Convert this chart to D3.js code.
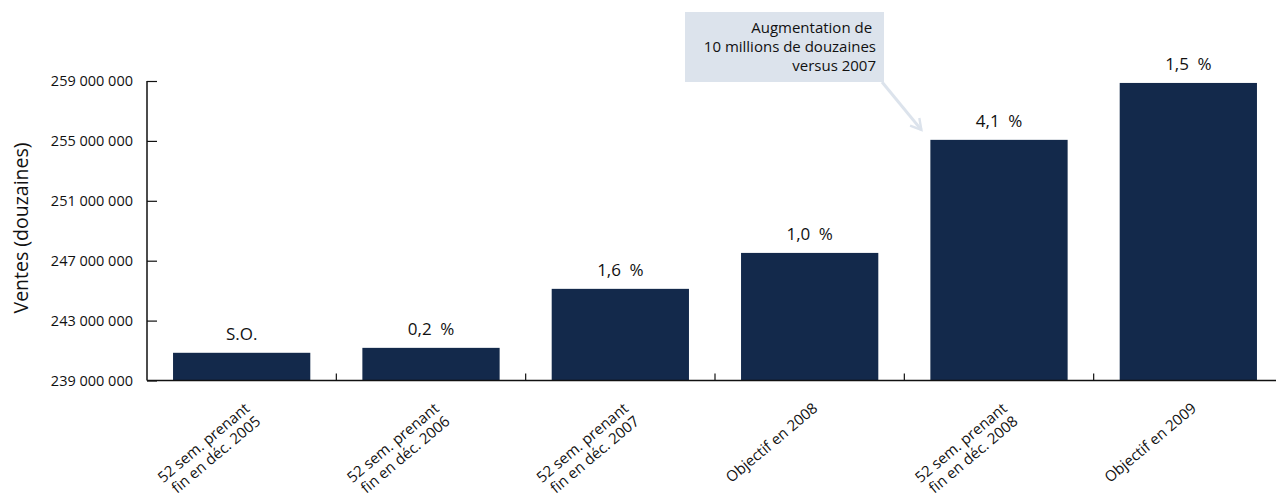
<!DOCTYPE html>
<html>
<head>
<meta charset="utf-8">
<script src="https://cdn.jsdelivr.net/npm/d3@7"></script>
<style>
  body { margin: 0; background: #fff; }
  svg text { font-family: "Open Sans", "Noto Sans", sans-serif; fill: #111; }
</style>
</head>
<body>
<div id="contents"></div>
<script>
var categories = [
    ['52 sem. prenant', 'fin en déc. 2005'],
    ['52 sem. prenant', 'fin en déc. 2006'],
    ['52 sem. prenant', 'fin en déc. 2007'],
    ['Objectif en 2008'],
    ['52 sem. prenant', 'fin en déc. 2008'],
    ['Objectif en 2009']
];
var ventes = [240850000, 241180000, 245120000, 247520000, 255070000, 258870000];
var labels = ['S.O.', '0,2\u2002%', '1,6\u2002%', '1,0\u2002%', '4,1\u2002%', '1,5\u2002%'];
var yTicks = [239000000, 243000000, 247000000, 251000000, 255000000, 259000000];
var noteLines = ['Augmentation de\u00a0', '10 millions de douzaines', 'versus 2007'];
var noteBar = 4;

window.onload = function(){
    'use strict';
    var W = 1276, H = 493;
    var BAR_COLOR = '#13294b';
    var NOTE_COLOR = '#dce3ec';

    var svg = d3.select('#contents').append('svg')
        .attr('width', W).attr('height', H);

    var x = d3.scaleBand()
        .domain(d3.range(categories.length))
        .range([147, 1283])
        .paddingInner(0.275)
        .paddingOuter(0.1375);

    var y = d3.scaleLinear()
        .domain([239000000, 259000000])
        .range([380.5, 81]);

    function fmt(v) {
        return d3.format(',')(v).replace(/,/g, ' ');
    }

    // bars
    svg.append('g')
        .selectAll('rect')
        .data(ventes)
        .enter()
        .append('rect')
        .attr('x', function(d, i){ return x(i); })
        .attr('width', x.bandwidth())
        .attr('y', function(d){ return y(d); })
        .attr('height', function(d){ return y.range()[0] - y(d); })
        .attr('fill', BAR_COLOR);

    // value labels
    svg.append('g')
        .selectAll('text')
        .data(ventes)
        .enter()
        .append('text')
        .attr('x', function(d, i){ return x(i) + x.bandwidth() / 2; })
        .attr('y', function(d){ return y(d) - 13; })
        .attr('text-anchor', 'middle')
        .attr('font-size', 17)
        .text(function(d, i){ return labels[i]; });

    // y axis
    var yAxis = svg.append('g')
        .attr('transform', 'translate(147,0)')
        .call(d3.axisRight(y).tickValues(yTicks).tickSize(10).tickFormat(''));
    yAxis.select('.domain').attr('stroke', '#111').attr('stroke-width', 1.5)
        .attr('d', 'M0,' + y.range()[1] + 'V' + y.range()[0]);
    yAxis.selectAll('.tick line').attr('stroke', '#111').attr('stroke-width', 1.2);

    svg.append('g')
        .selectAll('text')
        .data(yTicks)
        .enter()
        .append('text')
        .attr('x', 133)
        .attr('y', function(d){ return y(d) + 5; })
        .attr('text-anchor', 'end')
        .attr('font-size', 14.5)
        .text(fmt);

    svg.append('text')
        .attr('transform', 'translate(28,228) rotate(-90)')
        .attr('text-anchor', 'middle')
        .attr('font-size', 19.5)
        .text('Ventes (douzaines)');

    // x axis
    var y0 = y.range()[0];
    svg.append('line')
        .attr('x1', 147).attr('x2', W)
        .attr('y1', y0).attr('y2', y0)
        .attr('stroke', '#111').attr('stroke-width', 1.5);
    svg.append('g')
        .selectAll('line')
        .data(d3.range(1, categories.length))
        .enter()
        .append('line')
        .attr('x1', function(i){ return x(i) - x.step() * x.paddingInner() / 2; })
        .attr('x2', function(i){ return x(i) - x.step() * x.paddingInner() / 2; })
        .attr('y1', y0).attr('y2', y0 - 7)
        .attr('stroke', '#111').attr('stroke-width', 1.2);

    var xl = svg.append('g')
        .selectAll('text')
        .data(categories)
        .enter()
        .append('text')
        .attr('font-size', 15)
        .attr('text-anchor', 'end')
        .attr('transform', function(d, i){
            return 'translate(' + (x(i) + x.bandwidth() / 2 + 9) + ',410) rotate(-40)';
        });
    xl.selectAll('tspan')
        .data(function(d){ return d; })
        .enter()
        .append('tspan')
        .attr('x', 0)
        .attr('dy', function(d, j){ return j === 0 ? 0 : 17; })
        .text(function(d){ return d; });

    // callout
    var note = svg.append('g');
    note.append('rect')
        .attr('x', 685).attr('y', 12)
        .attr('width', 199).attr('height', 70)
        .attr('fill', NOTE_COLOR);
    note.selectAll('text')
        .data(noteLines)
        .enter()
        .append('text')
        .attr('x', 876)
        .attr('y', function(d, i){ return 33 + i * 19; })
        .attr('text-anchor', 'end')
        .attr('font-size', 15)
        .text(function(d){ return d; });

    var tipX = x(noteBar) - 9, tipY = y(ventes[noteBar]) - 10;
    svg.append('defs').append('marker')
        .attr('id', 'arrow')
        .attr('viewBox', '0 0 10 10')
        .attr('refX', 8).attr('refY', 5)
        .attr('markerWidth', 5).attr('markerHeight', 5)
        .attr('orient', 'auto')
        .append('path')
        .attr('d', 'M1,1 L8,5 L1,9')
        .attr('fill', 'none')
        .attr('stroke', NOTE_COLOR)
        .attr('stroke-width', 1.6);
    svg.append('line')
        .attr('x1', 882).attr('y1', 82)
        .attr('x2', tipX).attr('y2', tipY)
        .attr('stroke', NOTE_COLOR)
        .attr('stroke-width', 3)
        .attr('marker-end', 'url(#arrow)');
};
</script>
</body>
</html>
